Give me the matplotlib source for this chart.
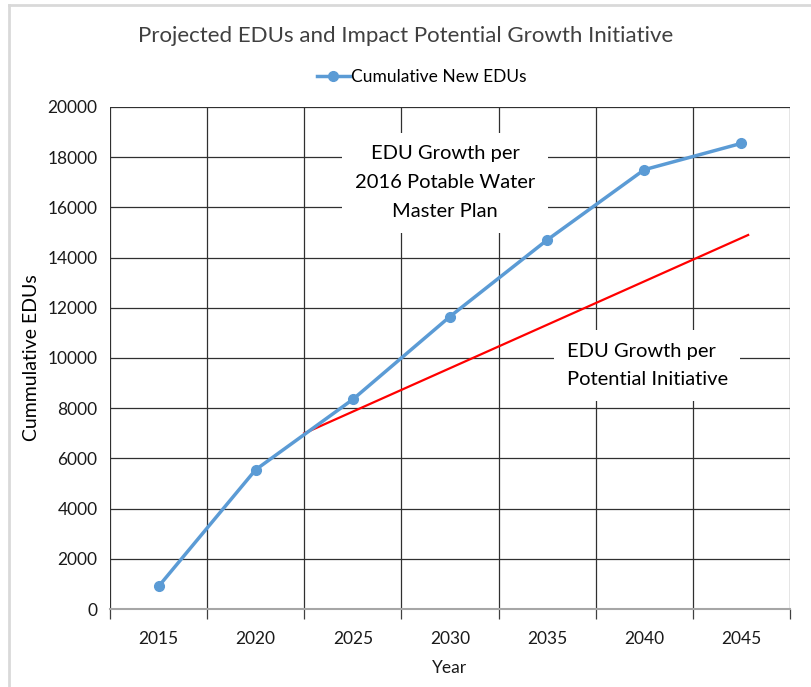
import matplotlib.pyplot as plt
from matplotlib.lines import Line2D

plt.rcParams['font.family'] = ['Lato', 'DejaVu Sans']

# данные
years = ['2015', '2020', '2025', '2030', '2035', '2040', '2045']
cumulative_edus = [900, 5550, 8350, 11650, 14700, 17500, 18550]

# красная линия: от границы 2020/2025 до чуть правее 2045
initiative_x = [1.5, 6.07]
initiative_y = [7000, 14900]

y_ticks = list(range(0, 20001, 2000))

fig = plt.figure(figsize=(8.11, 6.87), dpi=100)
ax = fig.add_axes([0.1356, 0.1135, 0.8384, 0.7308])

x = list(range(len(years)))
ax.plot(x, cumulative_edus, color='#5B9BD5', lw=2.5, marker='o', ms=7,
        label='Cumulative New EDUs', zorder=4)
ax.plot(initiative_x, initiative_y, color='red', lw=1.6, zorder=3)

ax.set_xlim(-0.5, 6.5)
ax.set_ylim(0, 20000)
ax.set_xticks(x)
ax.set_xticklabels(years, fontsize=12.5, color='#1a1a1a')
ax.set_xticks([i - 0.5 for i in range(len(years) + 1)], minor=True)
ax.tick_params(axis='x', which='major', length=0, pad=16)
ax.tick_params(axis='x', which='minor', length=7, color='#404040', width=0.9)
ax.set_yticks(y_ticks)
ax.set_yticklabels([str(v) for v in y_ticks], fontsize=12.5, color='#1a1a1a')
ax.tick_params(axis='y', length=0, pad=9)

ax.grid(True, axis='y', color='#303030', lw=0.9, zorder=0)
ax.grid(True, axis='x', which='minor', color='#303030', lw=0.9, zorder=0)
for s in ['top', 'right', 'left']:
    ax.spines[s].set_visible(False)
ax.spines['bottom'].set_color('#a6a6a6')
ax.spines['bottom'].set_linewidth(1.5)

ax.set_xlabel('Year', fontsize=12.5, color='#1a1a1a', labelpad=9)
ax.set_ylabel('Cummulative EDUs', fontsize=14, color='#000000', labelpad=5)

# подписи в белых рамках поверх сетки
ax.text(2.95, 16980, 'EDU Growth per\n2016 Potable Water\nMaster Plan',
        ha='center', va='center', fontsize=14.5, linespacing=1.85,
        bbox=dict(facecolor='white', edgecolor='none', pad=9), zorder=2)
ax.text(4.2, 9700, 'EDU Growth per\nPotential Initiative',
        ha='left', va='center', fontsize=14.5, linespacing=1.85,
        bbox=dict(facecolor='white', edgecolor='none', pad=9), zorder=2)

fig.suptitle('Projected EDUs and Impact Potential Growth Initiative',
             y=0.962, fontsize=16, color='#404040')
fig.legend(loc='center', bbox_to_anchor=(0.52, 0.888), frameon=False,
           fontsize=12.5, handlelength=1.9, handletextpad=0.1)

# светло-серая рамка сверху и слева
fig.add_artist(Line2D([0.011, 1.0], [0.993, 0.993], color='#d9d9d9', lw=2))
fig.add_artist(Line2D([0.011, 0.011], [0.0, 0.993], color='#d9d9d9', lw=2))

plt.savefig('out.png', dpi=100)
plt.close()
